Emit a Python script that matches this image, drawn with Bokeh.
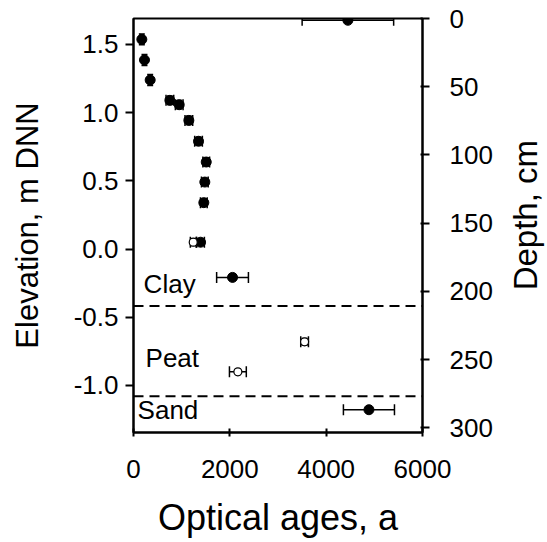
import math
from bokeh.plotting import figure
from bokeh.layouts import row
from bokeh.models import (Range1d, LinearAxis, FixedTicker, Span, Whisker, TeeHead,
                          ColumnDataSource, Label, CustomJSTickFormatter)
from bokeh.embed import file_html
from bokeh.resources import INLINE

# ---- data ----
age = [173, 228, 346, 755, 949, 1149, 1350, 1510, 1481, 1460, 1392, 2056, 4888, 4451]
age_err = [30, 30, 30, 80, 80, 80, 80, 70, 70, 70, 80, 330, 530, 950]
elev = [1.537, 1.386, 1.239, 1.09, 1.058, 0.943, 0.79, 0.638, 0.491, 0.34, 0.05, -0.208, -1.178, 1.677]
elev_err = [0.04, 0.04, 0.04, 0.03, 0.03, 0.03, 0.03, 0.03, 0.025, 0.025, 0.025, 0.0, 0.0, 0.0]

open_age = [1240, 3552, 2167]
open_age_err = [60, 80, 175]
open_elev = [0.05, -0.68, -0.90]
open_elev_err = [0.025, 0.025, 0.02]

boundaries = [-0.418, -1.08]
unit_labels = ["Clay", "Peat", "Sand"]
unit_label_x = [210, 250, 85]
unit_label_y = [-0.257, -0.80, -1.18]

elev_ticks = [-1.0, -0.5, 0.0, 0.5, 1.0, 1.5]
age_ticks = [0, 2000, 4000, 6000]
depth_ticks = [0, 50, 100, 150, 200, 250, 300]

y_top = 1.69
y_bot = -1.345

FONT = "Liberation Sans"

W, H = 504, 541
p = figure(width=W, height=H, output_backend="svg", toolbar_location=None,
           x_range=Range1d(0, 6000), y_range=Range1d(y_bot, y_top),
           min_border_left=133, min_border_right=W - 422, min_border_top=18,
           min_border_bottom=H - 432)
p.grid.visible = False
p.outline_line_color = "black"
p.outline_line_width = 2
p.background_fill_color = "white"
p.border_fill_color = "white"

p.extra_y_ranges = {"depth": Range1d(start=(y_top - y_bot) * 100, end=0)}

xa = p.xaxis[0]
xa.ticker = FixedTicker(ticks=age_ticks)
xa.axis_label = "Optical ages, a"
ya = p.yaxis[0]
ya.ticker = FixedTicker(ticks=elev_ticks)
ya.formatter = CustomJSTickFormatter(code="return tick.toFixed(1);")
ya.axis_label = "Elevation, m DNN"

ra = LinearAxis(y_range_name="depth", ticker=FixedTicker(ticks=depth_ticks))
p.add_layout(ra, "right")

for ax in (xa, ya, ra):
    ax.axis_line_width = 2
    ax.major_tick_line_width = 2
    ax.minor_tick_line_color = None
    ax.major_label_text_font = FONT
    ax.major_label_text_font_size = "26px"
    ax.major_label_text_color = "black"
    ax.axis_label_text_font = FONT
    ax.axis_label_text_font_style = "normal"
    ax.axis_label_text_color = "black"

xa.axis_label_text_font_size = "36px"
ya.axis_label_text_font_size = "31px"

xa.major_tick_in = 4
xa.major_tick_out = 4
xa.major_label_standoff = 23
xa.axis_label_standoff = 16
ya.major_tick_in = 0
ya.major_tick_out = 8
ya.major_label_standoff = 7
ya.axis_label_standoff = 26
ra.major_tick_in = 2
ra.major_tick_out = 7
ra.major_label_standoff = 20

# boundaries between units
for b in boundaries:
    p.add_layout(Span(location=b, dimension="width", line_color="black",
                      line_width=2, line_dash="10 6"))

# error bars
src = ColumnDataSource(dict(x=age, y=elev,
                            xl=[a - e for a, e in zip(age, age_err)],
                            xu=[a + e for a, e in zip(age, age_err)],
                            yl=[v - e for v, e in zip(elev, elev_err)],
                            yu=[v + e for v, e in zip(elev, elev_err)]))
osrc = ColumnDataSource(dict(x=open_age, y=open_elev,
                             xl=[a - e for a, e in zip(open_age, open_age_err)],
                             xu=[a + e for a, e in zip(open_age, open_age_err)],
                             yl=[v - e for v, e in zip(open_elev, open_elev_err)],
                             yu=[v + e for v, e in zip(open_elev, open_elev_err)]))
for s in (src, osrc):
    p.add_layout(Whisker(source=s, base="y", lower="xl", upper="xu", dimension="width",
                         line_width=1.5,
                         upper_head=TeeHead(size=11, line_width=1.5),
                         lower_head=TeeHead(size=11, line_width=1.5)))
    p.add_layout(Whisker(source=s, base="x", lower="yl", upper="yu", dimension="height",
                         line_width=1.5,
                         upper_head=TeeHead(size=6, line_width=1.5),
                         lower_head=TeeHead(size=6, line_width=1.5)))

p.scatter("x", "y", source=src, size=10, marker="circle", fill_color="black", line_color="black")
p.scatter("x", "y", source=osrc, size=8, marker="circle", fill_color="white", line_color="black",
          line_width=1.2)

for t, x, y in zip(unit_labels, unit_label_x, unit_label_y):
    p.add_layout(Label(x=x, y=y, text=t, text_font=FONT, text_font_size="26px",
                       text_baseline="middle", text_align="left", text_color="black"))

# right-hand title panel ("Depth, cm", reading bottom to top)
W2 = 42
p2 = figure(width=W2, height=H, output_backend="svg", toolbar_location=None,
            x_range=Range1d(0, W2), y_range=Range1d(0, H),
            x_axis_type=None, y_axis_type=None,
            min_border_left=0, min_border_right=0, min_border_top=0, min_border_bottom=0)
p2.grid.visible = False
p2.outline_line_color = None
p2.background_fill_color = "white"
p2.border_fill_color = "white"
p2.add_layout(Label(x=W2 / 2, y=H - 257, text="Depth, cm", angle=math.pi / 2,
                    text_align="center", text_baseline="middle",
                    text_font=FONT, text_font_size="33px", text_color="black"))

layout = row(p, p2, spacing=0)
open("out.html", "w").write(file_html(layout, INLINE))
